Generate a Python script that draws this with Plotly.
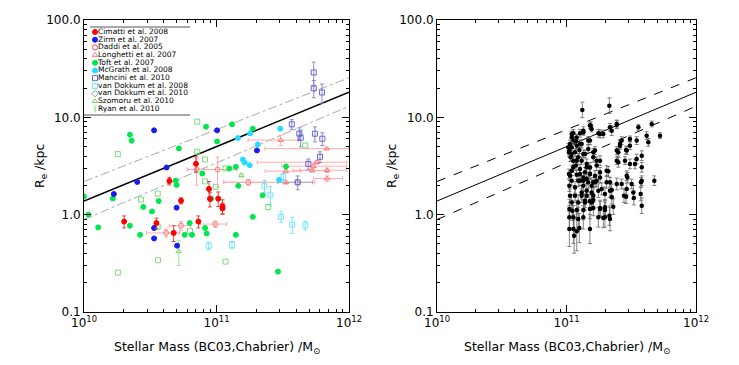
import numpy as np
import plotly.graph_objects as go

# ---------------- left panel data (stellar mass [Msun], Re [kpc]) ----------------
cim_m = [4.41e10, 7.0e10, 8.77e10, 8.93e10, 1.03e11, 1.11e11, 1.11e11, 5.4e10, 2.01e10, 3.52e10, 4.75e10, 7.3e10]
cim_r = [2.22, 3.33, 1.84, 1.45, 1.46, 1.22, 1.16, 1.39, 0.85, 0.82, 0.65, 0.85]
cim_e = [0.2, 0.6, 0.35, 0.25, 0.25, 0.2, 0.15, 0.1, 0.12, 0.1, 0.12, 0.12]

zir_m = [3.38e10, 1.01e11, 4.2e10, 2.52e10, 1.68e10, 5.0e10, 2.02e11, 3.38e10, 3.38e10, 5.04e10]
zir_r = [7.35, 7.35, 3.05, 2.17, 1.63, 1.18, 4.57, 0.73, 0.57, 0.48]

dad_m = [1.02e11, 7.08e10, 4.16e10, 5.4e10, 9.8e10, 1.74e11]
dad_r = [2.91, 2.91, 0.65, 0.77, 0.8, 2.15]
dad_xm = [4.2e10, 1.0e10, 1.2e10, 1.0e10, 2.3e10, 6.0e10]
dad_xp = [4.0e10, 1.0e10, 1.1e10, 1.0e10, 2.1e10, 6.0e10]
dad_e = [1.0, 0.9, 0.06, 0.08, 0.06, 0.15]

lon_m = [6.78e11, 5.73e11, 5.38e11, 6.83e11, 5.28e11, 3.33e11, 6.83e11, 3.33e11, 3.05e11]
lon_r = [4.76, 3.46, 3.15, 2.86, 2.84, 2.8, 2.35, 2.15, 5.83]
lon_xm = [4.46e11, 3.7e11, 2.27e11, 2.56e11, 1.5e11, 1.0e11, 1.4e11, 2.2e11, 1.32e11]
lon_xp = [3.22e11, 3.9e11, 4.2e11, 2.8e11, 1.5e11, 1.0e11, 2.1e11, 2.2e11, 1.07e11]
lon_e = [0.1, 0.15, 0.15, 0.15, 0.1, 0.1, 0.15, 0.1, 0.7]

tof_m = [2.22e10, 2.29e10, 5.2e10, 8.34e10, 1.31e11, 1.88e11, 1.01e11, 4.92e10, 5.0e10, 1.0e10,
         1.65e10, 2.8e10, 3.66e10, 1.08e10, 3.26e10, 2.22e10, 1.28e10, 2.65e10, 5.75e10, 6.53e10,
         6.28e10, 8.2e10, 8.43e10, 1.4e11, 7.81e10, 1.25e11, 1.4e11, 1.46e11, 2.23e11, 1.88e11,
         3.35e11, 2.91e11, 9.1e10]
tof_r = [6.63, 5.75, 4.79, 8.02, 8.47, 7.65, 5.66, 2.24, 2.02, 1.54,
         1.47, 1.2, 1.38, 1.0, 1.08, 0.77, 0.74, 0.62, 0.62, 0.62,
         0.82, 0.73, 0.64, 0.62, 2.65, 2.98, 3.1, 1.98, 1.58, 0.95,
         3.13, 0.26, 1.46]

mcg_m = [3.03e11, 1.79e11, 1.45e11, 2.05e11, 1.58e11, 1.63e11, 1.78e11, 2.97e11]
mcg_r = [7.65, 6.84, 6.12, 5.27, 3.69, 3.44, 3.22, 2.28]

man_m = [5.42e11, 5.42e11, 6.25e11, 3.7e11, 4.22e11, 4.32e11, 5.53e11, 6.29e11, 4.93e11, 6.04e11, 4.1e11]
man_r = [28.9, 19.9, 18.0, 8.47, 6.79, 6.18, 6.79, 6.03, 3.33, 3.93, 2.15]
man_e = [8.0, 4.0, 4.0, 1.0, 1.0, 1.2, 1.2, 0.9, 0.4, 0.5, 0.35]

vd8_m = [2.3e11, 2.55e11, 3.07e11, 3.73e11, 4.68e11, 8.73e10, 1.31e11, 3.19e11]
vd8_r = [1.96, 1.6, 0.95, 0.79, 0.78, 0.48, 0.49, 2.45]
vd8_e = [0.3, 0.35, 0.12, 0.15, 0.08, 0.04, 0.04, 0.2]

vd10_m = [4.1e11]
vd10_r = [2.15]
vd10_x = [1.2e11]

szo_m = [5.19e10, 1.54e11]
szo_r = [0.42, 2.54]
szo_e = [0.12, 0.1]

rya_m = [7.16e10, 7.16e10, 8.19e10, 1.8e10, 2.69e10, 3.6e10, 3.6e10, 4.68e11, 1.17e11, 8.19e10,
         9.86e10, 6.31e10, 3.61e10, 1.8e10, 1.17e11, 2.46e11]
rya_r = [9.03, 4.43, 3.69, 4.19, 1.43, 1.65, 0.75, 5.14, 2.98, 2.2,
         1.93, 0.68, 0.34, 0.254, 0.33, 1.2]

# size-mass relation and scatter (values at 1e10 and 1e12 Msun)
rel_m = [1e10, 1e12]
rel_mid = [1.38, 18.1]
rel_hi = [2.19, 25.5]
rel_lo = [0.89, 13.0]

# ---------------- right panel data (log10 M, log10 Re, error in dex) ----------------
r_logm = [11.122, 11.331, 11.658, 11.722, 11.555, 11.388, 11.349, 11.181, 11.194, 11.13,
          11.04, 11.014, 11.079, 11.259, 11.49, 11.426, 11.413, 11.465, 11.4, 11.388,
          11.452, 11.529, 11.581, 11.581, 11.465, 11.31, 11.233, 11.207, 11.168, 11.104,
          11.053, 11.019, 11.032, 11.079, 11.13, 11.156, 11.053, 11.019, 11.104, 11.181,
          11.259, 11.04, 11.13, 11.22, 11.336, 11.426, 11.503, 11.575, 11.678, 11.027,
          11.079, 11.13, 11.181, 11.091, 11.168, 11.233, 11.31, 11.022, 11.066, 11.13,
          11.194, 11.272, 11.349, 11.388, 11.465, 11.516, 11.444, 11.581, 11.027, 11.066,
          11.117, 11.156, 11.207, 11.04, 11.091, 11.143, 11.194, 11.022, 11.079, 11.13,
          11.181, 11.246, 11.297, 11.336, 11.022, 11.053, 11.13, 11.022, 11.053, 11.079,
          11.181, 11.259, 11.297, 11.361, 11.045, 11.053, 11.04, 11.104, 11.13, 11.187,
          11.336, 11.388, 11.027, 11.073, 11.117, 11.181, 11.246, 11.284, 11.413, 11.49,
          11.542, 11.619, 11.632, 11.022, 11.04, 11.066, 11.091, 11.053, 11.117, 11.143,
          11.156, 11.207, 11.181, 11.233, 11.259, 11.22, 11.168, 11.388, 11.46, 11.4,
          11.542, 11.49, 11.323, 11.259, 11.104, 11.47, 11.581, 11.46, 11.52, 11.573,
          11.091, 11.284, 11.331, 11.297, 11.259, 11.207, 11.143, 11.181, 11.207, 11.297,
          11.336, 11.349, 11.117, 11.156, 11.194, 11.246, 11.04, 11.079, 11.099, 11.073,
          11.104, 11.143, 11.22, 11.04, 11.156, 11.207, 11.099, 11.059]
r_logr = [1.076, 1.12, 0.932, 0.812, 0.897, 0.932, 0.863, 0.915, 0.881, 0.846,
          0.829, 0.692, 0.794, 0.829, 0.778, 0.761, 0.709, 0.658, 0.64, 0.555,
          0.555, 0.521, 0.606, 0.486, 0.401, 0.452, 0.555, 0.64, 0.761, 0.727,
          0.761, 0.64, 0.589, 0.555, 0.624, 0.486, 0.486, 0.418, 0.418, 0.418,
          0.383, 0.349, 0.349, 0.332, 0.332, 0.315, 0.315, 0.332, 0.349, 0.401,
          0.411, 0.383, 0.418, 0.349, 0.332, 0.349, 0.332, 0.298, 0.281, 0.298,
          0.298, 0.264, 0.254, 0.315, 0.264, 0.229, 0.195, 0.092, 0.195, 0.195,
          0.195, 0.195, 0.195, 0.126, 0.126, 0.126, 0.126, 0.058, 0.048, 0.048,
          0.058, -0.027, -0.027, -0.045, -0.027, -0.027, -0.027, -0.147, -0.147, -0.171,
          -0.147, 0.069, 0.075, 0.082, 0.041, 0.836, 0.794, 0.836, 0.863, 0.915,
          0.897, 0.925, 0.727, 0.753, 0.727, 0.761, 0.836, 0.829, 0.727, 0.709,
          0.761, 0.812, 0.743, 0.658, 0.624, 0.64, 0.589, 0.555, 0.555, 0.624,
          0.521, 0.589, 0.486, 0.504, 0.555, 0.658, 0.675, 0.658, 0.665, 0.538,
          0.572, 0.521, 0.445, 0.435, 0.349, 0.383, 0.349, 0.185, 0.17, 0.213,
          -0.045, -0.034, -0.01, 0.048, 0.058, 0.069, 0.144, 0.137, 0.151, 0.213,
          0.247, 0.178, 0.229, 0.247, 0.229, 0.247, 0.692, 0.709, 0.665, 0.504,
          0.47, 0.435, 0.401, 0.452, 0.367, 0.332, -0.137, -0.216]
r_err = [0.08, 0.08, 0.03, 0.03, 0.03, 0.04, 0.05, 0.03, 0.03, 0.03,
         0.03, 0.04, 0.03, 0.04, 0.03, 0.04, 0.04, 0.04, 0.04, 0.04,
         0.04, 0.05, 0.05, 0.05, 0.05, 0.05, 0.04, 0.04, 0.04, 0.04,
         0.04, 0.04, 0.04, 0.04, 0.04, 0.05, 0.05, 0.05, 0.05, 0.05,
         0.05, 0.05, 0.05, 0.05, 0.05, 0.05, 0.05, 0.05, 0.05, 0.05,
         0.05, 0.05, 0.05, 0.06, 0.06, 0.06, 0.06, 0.06, 0.06, 0.06,
         0.06, 0.06, 0.06, 0.06, 0.06, 0.07, 0.07, 0.08, 0.07, 0.07,
         0.07, 0.07, 0.07, 0.08, 0.08, 0.08, 0.08, 0.1, 0.1, 0.1,
         0.1, 0.1, 0.1, 0.12, 0.12, 0.12, 0.12, 0.18, 0.15, 0.2,
         0.15, 0.08, 0.08, 0.08, 0.1, 0.04, 0.04, 0.04, 0.04, 0.04,
         0.04, 0.04, 0.04, 0.04, 0.04, 0.04, 0.04, 0.04, 0.04, 0.04,
         0.04, 0.04, 0.04, 0.04, 0.04, 0.04, 0.04, 0.04, 0.04, 0.04,
         0.05, 0.05, 0.05, 0.05, 0.05, 0.04, 0.04, 0.04, 0.04, 0.05,
         0.05, 0.05, 0.05, 0.05, 0.05, 0.05, 0.05, 0.07, 0.07, 0.07,
         0.12, 0.1, 0.1, 0.08, 0.08, 0.08, 0.07, 0.07, 0.07, 0.07,
         0.07, 0.07, 0.07, 0.07, 0.07, 0.07, 0.04, 0.04, 0.04, 0.05,
         0.05, 0.05, 0.05, 0.05, 0.05, 0.05, 0.15, 0.18]

legend_labels = ["Cimatti et al. 2008", "Zirm et al. 2007", "Daddi et al. 2005", "Longhetti et al. 2007",
                 "Toft et al. 2007", "McGrath et al. 2008", "Mancini et al. 2010", "van Dokkum et al. 2008",
                 "van Dokkum et al. 2010", "Szomoru et al. 2010", "Ryan et al. 2010"]
legend_symbols = ["circle", "circle", "circle-open", "triangle-up-open", "circle", "circle",
                  "square-open", "square-open", "diamond-open", "triangle-up-open", "line-ns-open"]
legend_colors = ["#ff0000", "#1a1aee", "#ff4444", "#ff7777", "#00e64d", "#22ddff",
                 "#6666cc", "#66e6ff", "#999999", "#66dd66", "#66dd66"]

W, H = 739, 365
def px(x): return x / W
def py(y): return 1 - y / H

fig = go.Figure()

def add_left(m, r, sym, col, size=5, ey=None, ecol=None, exm=None, exp=None):
    kw = {}
    if ey is not None:
        kw["error_y"] = dict(type="data", array=ey, color=ecol or col, thickness=1, width=2)
    if exm is not None:
        kw["error_x"] = dict(type="data", array=exp, arrayminus=exm, color=ecol or col, thickness=1, width=2)
    fig.add_trace(go.Scatter(x=m, y=r, mode="markers", xaxis="x", yaxis="y",
                             marker=dict(symbol=sym, color=col, size=size, line=dict(width=1, color=col)),
                             showlegend=False, **kw))

# relation lines (left)
fig.add_trace(go.Scatter(x=rel_m, y=rel_hi, mode="lines", line=dict(color="#aaaaaa", width=1, dash="dashdot"), showlegend=False))
fig.add_trace(go.Scatter(x=rel_m, y=rel_lo, mode="lines", line=dict(color="#aaaaaa", width=1, dash="dashdot"), showlegend=False))
fig.add_trace(go.Scatter(x=rel_m, y=rel_mid, mode="lines", line=dict(color="black", width=1.6), showlegend=False))

add_left(lon_m, lon_r, "triangle-up-open", "#ff7777", ey=lon_e, ecol="#ffaaaa", exm=lon_xm, exp=lon_xp)
add_left(dad_m, dad_r, "circle-open", "#ff7777", ey=dad_e, ecol="#ffaaaa", exm=dad_xm, exp=dad_xp)
add_left(vd10_m, vd10_r, "diamond-open", "#888888", exm=vd10_x, exp=vd10_x, ecol="#aaaaaa")
add_left(man_m, man_r, "square-open", "#6666cc", ey=man_e, ecol="#8888dd")
add_left(vd8_m, vd8_r, "square-open", "#77e6ff", ey=vd8_e, ecol="#77e6ff")
add_left(szo_m, szo_r, "triangle-up-open", "#77dd77", ey=szo_e, ecol="#99e699")
add_left(rya_m, rya_r, "square-open", "#77dd77", size=5)
add_left(tof_m, tof_r, "circle", "#00e64d")
add_left(mcg_m, mcg_r, "circle", "#22ddff")
add_left(zir_m, zir_r, "circle", "#1a1aee")
add_left(cim_m, cim_r, "circle", "#ff0000", ey=cim_e, ecol="#dd4444")

# right panel
rm = 10 ** np.array(r_logm)
rr = 10 ** np.array(r_logr)
re_ = np.array(r_err)
fig.add_trace(go.Scatter(x=rel_m, y=rel_hi, mode="lines", xaxis="x2", yaxis="y2", line=dict(color="black", width=1, dash="dash"), showlegend=False))
fig.add_trace(go.Scatter(x=rel_m, y=rel_lo, mode="lines", xaxis="x2", yaxis="y2", line=dict(color="black", width=1, dash="dash"), showlegend=False))
fig.add_trace(go.Scatter(x=rel_m, y=rel_mid, mode="lines", xaxis="x2", yaxis="y2", line=dict(color="black", width=1), showlegend=False))
fig.add_trace(go.Scatter(x=rm, y=rr, mode="markers", xaxis="x2", yaxis="y2",
                         marker=dict(symbol="circle", color="black", size=4.5),
                         error_y=dict(type="data", array=rr * (10 ** re_ - 1), arrayminus=rr * (1 - 10 ** -re_),
                                      color="#666666", thickness=0.8, width=2),
                         showlegend=False))

# custom legend (overlay axis)
for i, (lab, sym, col) in enumerate(zip(legend_labels, legend_symbols, legend_colors)):
    fig.add_trace(go.Scatter(x=[5], y=[i], mode="markers", xaxis="x3", yaxis="y3",
                             marker=dict(symbol=sym, color=col, size=5, line=dict(width=1, color=col)),
                             showlegend=False, hoverinfo="skip"))
fig.add_trace(go.Scatter(x=[8] * len(legend_labels), y=list(range(len(legend_labels))), mode="text",
                         text=legend_labels, textposition="middle right", xaxis="x3", yaxis="y3",
                         textfont=dict(size=7.5, color="black", family="DejaVu Sans"), showlegend=False, hoverinfo="skip"))

minor_x = [k * 10 ** e for e in (10, 11) for k in range(2, 10)]
minor_y = [k * 10 ** e for e in (-1, 0, 1) for k in range(2, 10)]

def xax(dom, anchor):
    return dict(type="log", range=[10, 12], domain=dom, anchor=anchor, automargin=False,
                showline=True, linecolor="black", linewidth=1,
                mirror="allticks", ticks="inside", ticklen=7, tickcolor="black",
                tickvals=[1e10, 1e11, 1e12], ticktext=["10<sup>10</sup>", "10<sup>11</sup>", "10<sup>12</sup>"],
                minor=dict(ticks="inside", ticklen=3, tickvals=minor_x, tickcolor="black"),
                showgrid=False, zeroline=False, tickfont=dict(size=12, color="black"))

def yax(anchor):
    return dict(type="log", range=[-1, 2], domain=[py(312), py(20)], anchor=anchor, automargin=False,
                showline=True, linecolor="black", linewidth=1, mirror="allticks", ticks="inside",
                ticklen=7, tickcolor="black",
                tickvals=[0.1, 1, 10, 100], ticktext=["0.1", "1.0", "10.0", "100.0"],
                minor=dict(ticks="inside", ticklen=3, tickvals=minor_y, tickcolor="black"),
                showgrid=False, zeroline=False, tickfont=dict(size=12, color="black"))

annotations = []
for xc in ((84 + 349) / 2, (437 + 696) / 2):
    annotations.append(dict(x=px(xc), y=py(347), xref="paper", yref="paper", showarrow=False,
                            xanchor="center", yanchor="middle",
                            text="Stellar Mass (BC03,Chabrier) /M<sub>⊙</sub>", font=dict(size=12.5, color="black")))
for xc in (40, 392):
    annotations.append(dict(x=px(xc), y=py(166), xref="paper", yref="paper", showarrow=False, textangle=-90,
                            xanchor="center", yanchor="middle",
                            text="R<sub>e</sub> /kpc", font=dict(size=12.5, color="black")))

shapes = [
    dict(type="line", xref="paper", yref="paper", x0=px(90), x1=px(190), y0=py(27), y1=py(27), line=dict(color="#555555", width=1)),
    dict(type="line", xref="paper", yref="paper", x0=px(84), x1=px(190), y0=py(115), y1=py(115), line=dict(color="#555555", width=1)),
]

fig.update_layout(
    template="none",
    width=W, height=H, margin=dict(l=0, r=0, t=0, b=0, pad=0, autoexpand=False),
    paper_bgcolor="white", plot_bgcolor="white",
    font=dict(family="DejaVu Sans", color="black"),
    xaxis=xax([px(84), px(349)], "y"), yaxis=yax("x"),
    xaxis2=xax([px(437), px(696)], "y2"), yaxis2=yax("x2"),
    xaxis3=dict(domain=[px(90), px(200)], range=[0, 110], visible=False, anchor="y3", fixedrange=True, automargin=False),
    yaxis3=dict(domain=[py(112.85), py(28.15)], range=[10.5, -0.5], visible=False, anchor="x3", fixedrange=True, automargin=False),
    annotations=annotations, shapes=shapes, showlegend=False,
)

fig.write_html("out.html", config={"displayModeBar": False},
               post_script="document.body.style.margin='0px';")
